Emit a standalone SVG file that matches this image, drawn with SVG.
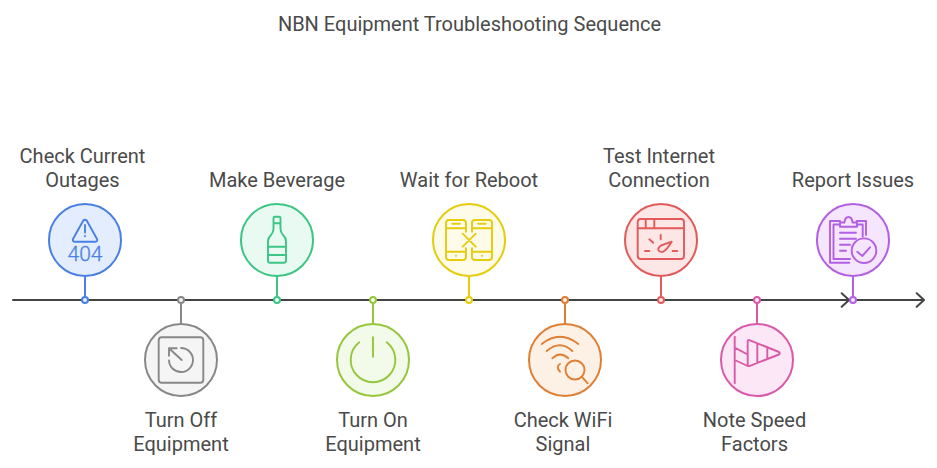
<svg xmlns="http://www.w3.org/2000/svg" width="937" height="468" viewBox="0 0 937 468">
<style>
text{font-family:Roboto,"Liberation Sans",sans-serif;font-size:20px;fill:#4a4a4a;text-anchor:middle}
.c{stroke-width:2}
.i{fill:none;stroke-width:1.9;stroke-linecap:round;stroke-linejoin:round}
.axis{fill:none;stroke:#444;stroke-width:2;stroke-linecap:round;stroke-linejoin:round}
.blue{stroke:#4a80e4}.gray{stroke:#888}.green{stroke:#3cc584}.lime{stroke:#96c63c}.yellow{stroke:#e6cc0c}.orange{stroke:#e07f33}.red{stroke:#e35a5a}.pink{stroke:#d95aa8}.purple{stroke:#b35fe3}
.stem{stroke-width:2;fill:none}
.dot{stroke-width:2}
</style>
<rect width="937" height="468" fill="#fff"/>
<text x="469.5" y="31" id="title">NBN Equipment Troubleshooting Sequence</text>
<g id="connectors">
<path class="axis" d="M13 300H924M916.7 293.3L924 300L916.7 306.7M841.7 293.3L849 300L841.7 306.7"/>
<path class="stem blue" d="M85 276.500V297"/><circle class="dot blue" cx="85" cy="300" r="3" fill="#e3edfd"/>
<path class="stem gray" d="M181 303V323.500"/><circle class="dot gray" cx="181" cy="300" r="3" fill="#f5f5f5"/>
<path class="stem green" d="M277 276.500V297"/><circle class="dot green" cx="277" cy="300" r="3" fill="#e8faf1"/>
<path class="stem lime" d="M373 303V323.500"/><circle class="dot lime" cx="373" cy="300" r="3" fill="#f2faea"/>
<path class="stem yellow" d="M469 276.500V297"/><circle class="dot yellow" cx="469" cy="300" r="3" fill="#fefce8"/>
<path class="stem orange" d="M565 303V323.500"/><circle class="dot orange" cx="565" cy="300" r="3" fill="#fdf1e6"/>
<path class="stem red" d="M661 276.500V297"/><circle class="dot red" cx="661" cy="300" r="3" fill="#fde6e6"/>
<path class="stem pink" d="M757 303V323.500"/><circle class="dot pink" cx="757" cy="300" r="3" fill="#fbe7f5"/>
<path class="stem purple" d="M853 276.500V297"/><circle class="dot purple" cx="853" cy="300" r="3" fill="#f5e6fd"/>
</g>
<g id="node-check-outages">
<circle class="c blue" cx="85" cy="240" r="36" fill="#e3edfd"/>
<path class="i blue" d="M83.300 220.500Q85 218.800 86.700 220.500L97 239Q97.800 241.500 95.500 241.700H74.500Q72.200 241.500 73 239ZM85 225V232.500M85 236V236.200"/>
<text x="85" y="261" style="font-size:21px;font-weight:300;fill:#4a80e4;stroke:#4a80e4;stroke-width:.3">404</text>
<text x="82.500" y="163">Check Current</text><text x="82.500" y="187">Outages</text>
</g>
<g id="node-turn-off">
<circle class="c gray" cx="181" cy="360" r="36" fill="#f5f5f5"/>
<rect class="i gray" x="158.700" y="337.300" width="44.600" height="45.400" rx="3"/>
<path class="i gray" d="M169 348.300L181.700 360M169 355.700V348.300H176.700M181 348A12 12 0 1 1 169 360.500"/>
<text x="181" y="427">Turn Off</text><text x="181" y="451">Equipment</text>
</g>
<g id="node-make-beverage">
<circle class="c green" cx="277" cy="240" r="36" fill="#e8faf1"/>
<path class="i green" d="M273.500 218Q273.500 216.700 275 216.700H279Q280.500 216.700 280.500 218V229Q280.500 232 283 235Q286 238 286 241V260.500Q286 262.700 284 262.700H270Q268 262.700 268 260.500V241Q268 238 271 235Q273.500 232 273.500 229ZM273.500 223.300H280.500M268 246.700H286M268 255H286"/>
<text x="277" y="187">Make Beverage</text>
</g>
<g id="node-turn-on">
<circle class="c lime" cx="373" cy="360" r="36" fill="#f2faea"/>
<path class="i lime" d="M359.300 342.300A22.300 22.300 0 1 0 386.700 342.300M373 337.300V356.700"/>
<text x="373" y="427">Turn On</text><text x="373" y="451">Equipment</text>
</g>
<g id="node-wait-reboot">
<circle class="c yellow" cx="469" cy="240" r="36" fill="#fefce8"/>
<path class="i yellow" d="M466 231.700V223Q466 220 463 220H449Q446 220 446 223V257Q446 260 449 260H463Q466 260 466 257V248.300M446 228.300H466M446 251.700H466M452.300 223.700H460M456 255.700V255.900"/>
<path class="i yellow" d="M472 231.700V223Q472 220 475 220H489Q492 220 492 223V257Q492 260 489 260H475Q472 260 472 257V248.300M472 228.300H492M472 251.700H492M478 223.700H485.700M482 255.700V255.900M462.700 233.700L475.700 246.700M475.700 233.700L462.700 246.700"/>
<text x="469" y="187">Wait for Reboot</text>
</g>
<g id="node-check-wifi">
<circle class="c orange" cx="565" cy="360" r="36" fill="#fdf1e6"/>
<path class="i orange" d="M541.700 344Q560 329.500 578.300 344M546.700 351Q560 339.500 572.300 351M552.300 358.300Q560 350.500 568.300 358.300M560 364Q555.500 366.500 560 371.700"/>
<circle class="i orange" cx="575" cy="370" r="9.500"/><path class="i orange" d="M581.700 376.700L587.700 383.300"/>
<text x="563" y="427">Check WiFi</text><text x="563" y="451">Signal</text>
</g>
<g id="node-test-internet">
<circle class="c red" cx="661" cy="240" r="36" fill="#fde6e6"/>
<rect class="i red" x="637.700" y="219" width="46.300" height="40" rx="3"/>
<path class="i red" d="M637.700 228.300H684M645.700 219V228.300M654.300 219V228.300M645 251H649.300M672.700 251H677.300M649.300 239.300L653.300 242.700M660.700 235V239.300M671.700 241.700L661 245.500Q657.500 248 658.500 250.500Q660 252.500 663.500 251.500Q666.500 250 671.700 241.700Z"/>
<text x="659" y="163">Test Internet</text><text x="659" y="187">Connection</text>
</g>
<g id="node-note-speed">
<circle class="c pink" cx="757" cy="360" r="36" fill="#fbe7f5"/>
<path class="i pink" d="M734.700 336.700V383.300M734.700 347.700L747.700 354.500M734.700 360L747.700 366M747.700 341.500Q747.700 339.500 750 340.300L779 352Q780.500 353.300 779 354.500L750 365.800Q747.700 366.500 747.700 364.500ZM757.300 344V362M767.300 348V358.300"/>
<text x="754.500" y="427">Note Speed</text><text x="754.500" y="451">Factors</text>
</g>
<g id="node-report-issues">
<circle class="c purple" cx="853" cy="240" r="36" fill="#f5e6fd"/>
<path class="i purple" d="M840 221H830V262.700H849.300M856.700 221H866V235M840 224.500H833.500V259H850M856.700 224.500H862.700V236.500M840 226.700H857V222.500H852.500Q852 217 848.500 217Q845 217 844.500 222.500H840ZM840 232.700H856M840 238.700H856M840 244.700H850M840 250.700H846"/>
<circle class="i purple" cx="864" cy="250.700" r="12.300"/>
<path class="i purple" d="M857.300 251.700L862.300 256L870 247.300"/>
<text x="853" y="187">Report Issues</text>
</g>
</svg>
